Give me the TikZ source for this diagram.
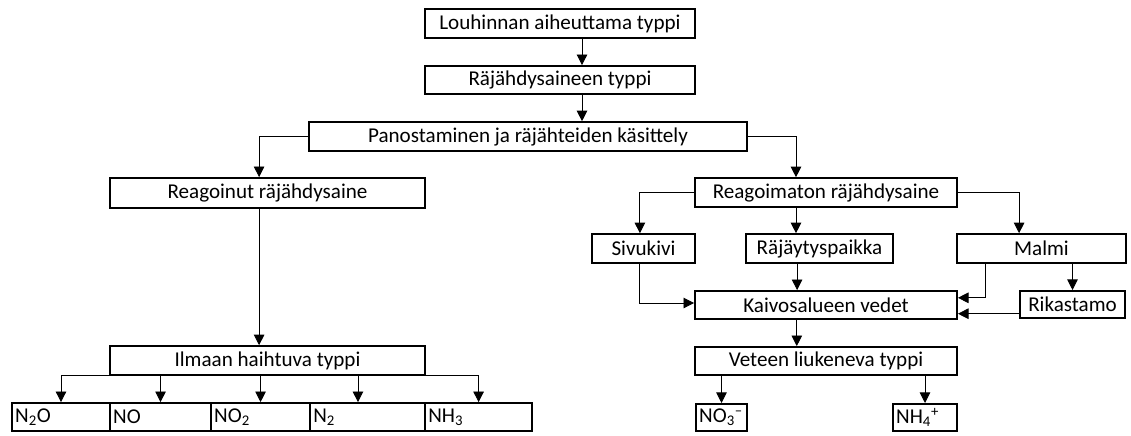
\documentclass[tikz,border=0pt]{standalone}
\usepackage{fontspec}
\setmainfont{Carlito}
\usepackage{tikz}
\usetikzlibrary{positioning, arrows.meta, calc}

\begin{document}
\begin{tikzpicture}[x=0.025cm, y=-0.025cm,
  font=\fontsize{15}{18}\selectfont,
  box/.style={rectangle, draw, line width=1.3pt, inner sep=0pt,
             minimum height=0.72cm, align=center},
  gas/.style={rectangle, draw, line width=1.3pt, inner xsep=0.08cm,
             inner ysep=0pt, minimum height=0.7cm, align=left},
  arr/.style={line width=0.6pt, -{Triangle[length=7.5pt, width=7.5pt]}},
  ln/.style={line width=0.6pt},
]
\useasboundingbox (0,0) rectangle (1131,435);

% ---- Top chain ----
\node[box, minimum width=6.75cm] (lou) at (560, 23.5) {Louhinnan aiheuttama typpi};
\node[box, minimum width=6.75cm, minimum height=0.7cm] (raj) at (560, 80) {Räjähdysaineen typpi};
\node[box, minimum width=10.95cm] (pan) at (528, 136.5) {Panostaminen ja räjähteiden käsittely};

% ---- Left branch: reacted ----
\node[box, minimum width=7.875cm, minimum height=0.75cm] (reagoinut) at (267.5, 193) {Reagoinut räjähdysaine};
\node[box, minimum width=7.875cm] (ilmaan) at (267.5, 360.5) {Ilmaan haihtuva typpi};

\node[gas, text width=2.29cm] (n2o) at (61, 417) {N\textsubscript{2}O};
\node[gas, text width=2.365cm, right=-1.3pt of n2o] (no) {NO};
\node[gas, text width=2.315cm, right=-1.3pt of no] (no2) {NO\textsubscript{2}};
\node[gas, text width=2.715cm, right=-1.3pt of no2] (n2) {N\textsubscript{2}};
\node[gas, text width=2.515cm, right=-1.3pt of n2] (nh3) {NH\textsubscript{3}};

% ---- Right branch: unreacted ----
\node[box, minimum width=6.55cm] (reagoimaton) at (826, 192.5) {Reagoimaton räjähdysaine};
\node[box, minimum width=2.575cm] (sivukivi) at (643.5, 248.5) {Sivukivi};
\node[box, minimum width=3.675cm] (rajaytys) at (819.5, 248.5) {Räjäytyspaikka};
\node[box, minimum width=4.225cm] (malmi) at (1041.5, 248.5) {Malmi};
\node[box, minimum width=6.55cm, minimum height=0.7cm] (kaivos) at (826, 305) {Kaivosalueen vedet};
\node[box, minimum width=2.625cm, minimum height=0.68cm] (rikastamo) at (1072.5, 304.5) {Rikastamo};
\node[box, minimum width=6.55cm, minimum height=0.7cm] (veteen) at (826, 361) {Veteen liukeneva typpi};

\node[gas, text width=1.115cm, minimum height=0.68cm] (no3) at (721.5, 417.5) {NO\textsubscript{3}\textsuperscript{--}};
\node[gas, text width=1.44cm, minimum height=0.68cm] (nh4) at (925, 417.5) {NH\textsubscript{4}\textsuperscript{+}};

% ---- Connectors ----
\draw[arr] ([xshift=0.55cm]lou.south) -- ([xshift=0.55cm]raj.north);
\draw[arr] ([xshift=0.55cm]raj.south) -- ([xshift=0.55cm]raj.south |- pan.north);
\draw[arr] (pan.west) -| ([xshift=-0.21cm]reagoinut.north);
\draw[arr] (pan.east) -| ([xshift=-0.75cm]reagoimaton.north);

\draw[arr] ([xshift=-0.21cm]reagoinut.south) -- ([xshift=-0.21cm]ilmaan.north);
\draw[arr] (ilmaan.south west) -| (n2o.north);
\draw[arr] (no.north |- ilmaan.south) -- (no.north);
\draw[arr] (no2.north |- ilmaan.south) -- (no2.north);
\draw[arr] ([xshift=-0.24cm]n2.north |- ilmaan.south) -- ([xshift=-0.24cm]n2.north);
\draw[arr] (ilmaan.south east) -| (nh3.north);

\draw[arr] (reagoimaton.west) -| ([xshift=-0.09cm]sivukivi.north);
\draw[arr] ([xshift=-0.75cm]reagoimaton.south) -- ([xshift=-0.75cm]reagoimaton.south |- rajaytys.north);
\draw[arr] (reagoimaton.east) -| ([xshift=-0.56cm]malmi.north);

\draw[arr] ([xshift=-0.09cm]sivukivi.south) |- ([yshift=0.05cm]kaivos.west);
\draw[arr] ([xshift=-0.56cm]rajaytys.south) -- ([xshift=-0.56cm]rajaytys.south |- kaivos.north);
\draw[arr] ([xshift=-1.39cm]malmi.south) |- ([yshift=0.18cm]kaivos.east);
\draw[arr] (rikastamo.north |- malmi.south) -- (rikastamo.north);
\draw[arr] ([yshift=-0.23cm]rikastamo.west) -- ([yshift=-0.23cm]rikastamo.west -| kaivos.east);

\draw[arr] ([xshift=-0.73cm]kaivos.south) -- ([xshift=-0.73cm]veteen.north);
\draw[arr] (no3.north |- veteen.south) -- (no3.north);
\draw[arr] (nh4.north |- veteen.south) -- (nh4.north);

\end{tikzpicture}
\end{document}
